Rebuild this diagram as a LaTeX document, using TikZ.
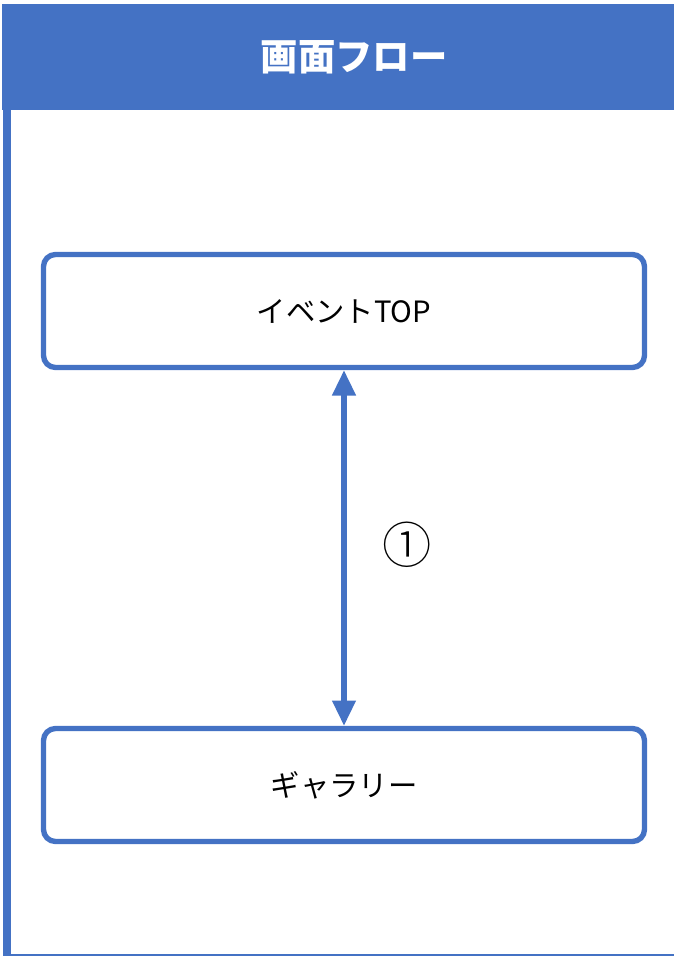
\documentclass[tikz,border=0pt]{standalone}
\usepackage{fontspec}
\setmainfont{Noto Sans CJK JP}
\newfontfamily\symfont{Noto Sans CJK JP}[UprightFont=* Light]
\usetikzlibrary{arrows.meta}
\definecolor{blu}{HTML}{4472C4}
\tikzset{
  screenbox/.style={draw=blu, line width=4pt, rounded corners=9pt, fill=white,
    minimum width=450.75pt, minimum height=84.75pt, inner sep=0pt,
    font=\fontsize{22}{26}\selectfont},
  flowarrow/.style={draw=blu, line width=4pt,
    {Triangle[width=17pt,length=19pt]}-{Triangle[width=17pt,length=19pt]}},
}
\begin{document}
\begin{tikzpicture}[x=0.75pt,y=-0.75pt]
\useasboundingbox (0,0) rectangle (674,957);
\fill[blu] (2,4) rectangle (674,110);
\fill[blu] (3,109) rectangle (10.5,956);
\fill[blu] (3,954) rectangle (674,956);
\node[font=\bfseries\fontsize{28}{32}\selectfont, text=white] (title) at (354,57) {画面フロー};
\node[screenbox] (top) at (344,311) {イベントTOP};
\node[screenbox] (gal) at (344,785) {ギャラリー};
\draw[flowarrow] (top.south) -- (gal.north);
\node[font=\symfont\fontsize{37}{40}\selectfont] (num) at (407,545) {①};
\end{tikzpicture}
\end{document}
